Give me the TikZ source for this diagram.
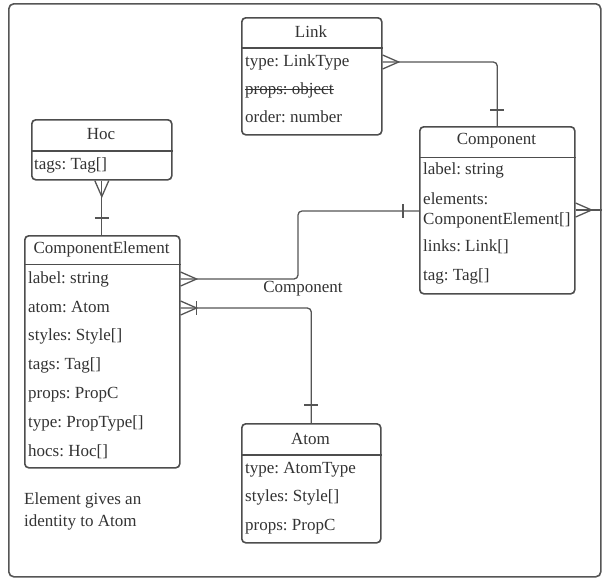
\documentclass[tikz,border=0pt]{standalone}
\usepackage{fontspec}
\setmainfont{Liberation Serif}
\definecolor{linec}{HTML}{555555}
\definecolor{textc}{HTML}{333333}
\definecolor{boxc}{HTML}{4D4D4D}
\frenchspacing
\begin{document}
\frenchspacing
\begin{tikzpicture}[x=1pt,y=-1pt,
 every node/.style={font=\rmfamily\fontsize{17}{21}\selectfont, text=textc},
 box/.style={draw=boxc, line width=1.6pt, rounded corners=4pt, fill=white, anchor=north west, inner sep=0},
 head/.style={anchor=center, inner sep=0},
 row/.style={anchor=west, inner sep=0, text height=12pt, text depth=4pt},
 sep/.style={draw=boxc, line width=1.6pt},
 conn/.style={draw=linec, line width=1.3pt},
 strike/.style={draw=textc, line width=0.9pt},
 crow/.pic={\draw[conn] (0,-7) -- (16,0) -- (0,7);},
 onebar/.pic={\draw[conn] (0,-7) -- (0,7);}]
\useasboundingbox (0,0) rectangle (604,582);
\node[draw=linec, line width=1.6pt, rounded corners=5pt, minimum width=592pt, minimum height=573pt, anchor=north west, inner sep=0] (frame) at (8,3) {};

% Link
\node[box, minimum width=140pt, minimum height=117pt] (link) at (241,17) {};
\node[head] (linkh) at (311,32) {Link};
\draw[sep] (link.west |- 0,48) -- (link.east |- 0,48);
\node[row] (l1) at (245,62) {type: LinkType};
\node[row] (l2) at (245,90) {props: object};
\draw[strike] ([yshift=1pt]l2.west) -- ([yshift=1pt]l2.east);
\node[row] (l3) at (245,118) {order: number};

% Component
\node[box, minimum width=155pt, minimum height=167pt] (comp) at (419,126) {};
\node[head] (comph) at (496.5,141) {Component};
\draw[sep] (comp.west |- 0,157.5) -- (comp.east |- 0,157.5);
\node[row] (c1) at (423,170) {label: string};
\node[row] (c2a) at (423,200) {elements:};
\node[row] (c2b) at (423,220) {ComponentElement[]};
\node[row] (c3) at (423,247) {links: Link[]};
\node[row] (c4) at (423,276) {tag: Tag[]};

% Hoc
\node[box, minimum width=140pt, minimum height=60pt] (hoc) at (31,119) {};
\node[head] (hoch) at (101,134) {Hoc};
\draw[sep] (hoc.west |- 0,151) -- (hoc.east |- 0,151);
\node[row] (h1) at (34,165) {tags: Tag[]};

% ComponentElement
\node[box, minimum width=155pt, minimum height=232pt] (ce) at (24,235) {};
\node[head] (ceh) at (101.5,249) {ComponentElement};
\draw[sep] (ce.west |- 0,264.5) -- (ce.east |- 0,264.5);
\node[row] (ce1) at (28,279) {label: string};
\node[row] (ce2) at (28,308) {atom: Atom};
\node[row] (ce3) at (28,336) {styles: Style[]};
\node[row] (ce4) at (28,365) {tags: Tag[]};
\node[row] (ce5) at (28,394) {props: PropC};
\node[row] (ce6) at (28,423) {type: PropType[]};
\node[row] (ce7) at (28,452) {hocs: Hoc[]};

% Atom
\node[box, minimum width=139pt, minimum height=119pt] (atom) at (241,423) {};
\node[head] (atomh) at (310.5,439) {Atom};
\draw[sep] (atom.west |- 0,455) -- (atom.east |- 0,455);
\node[row] (a1) at (245,469) {type: AtomType};
\node[row] (a2) at (245,497) {styles: Style[]};
\node[row] (a3) at (245,526) {props: PropC};

% Note
\node[row] (n1) at (24,500) {Element gives an};
\node[row] (n2) at (24,522) {identity to Atom};

% Link -- Component
\coordinate (lA) at (link.east |- l1);
\draw[conn, rounded corners=4pt] (lA) -| (comp.north);
\pic at (lA) {crow};
\pic[rotate=90] at ([yshift=16pt]comp.north) {onebar};

% Hoc -- ComponentElement
\coordinate (hB) at (hoc.south |- ce.north);
\draw[conn] (hoc.south) -- (hB);
\pic[rotate=-90] at (hoc.south) {crow};
\pic[rotate=90] at ([yshift=17pt]hB) {onebar};

% ComponentElement -- Component
\coordinate (ceL) at (ce.east |- ce1);
\coordinate (j1) at (298,0);
\coordinate (cin) at (comp.west |- 0,211);
\draw[conn, rounded corners=4pt] (ceL) -- (j1 |- ceL) -- (j1 |- cin) -- (cin);
\pic at (ceL) {crow};
\pic at ([xshift=-16pt]cin) {onebar};
\node[inner sep=0] (lbl) at (303,289) {Component};

% ComponentElement -- Atom
\coordinate (ceA) at (ce.east |- ce2);
\draw[conn, rounded corners=4pt] (ceA) -| (atom.north);
\pic at (ceA) {crow};
\pic at ([xshift=16pt]ceA) {onebar};
\pic[rotate=90] at ([yshift=18pt]atom.north) {onebar};

% Component -- frame
\coordinate (cR) at (comp.east |- 0,210);
\draw[conn] (cR) -- (frame.east |- cR);
\pic at (cR) {crow};
\end{tikzpicture}
\end{document}
